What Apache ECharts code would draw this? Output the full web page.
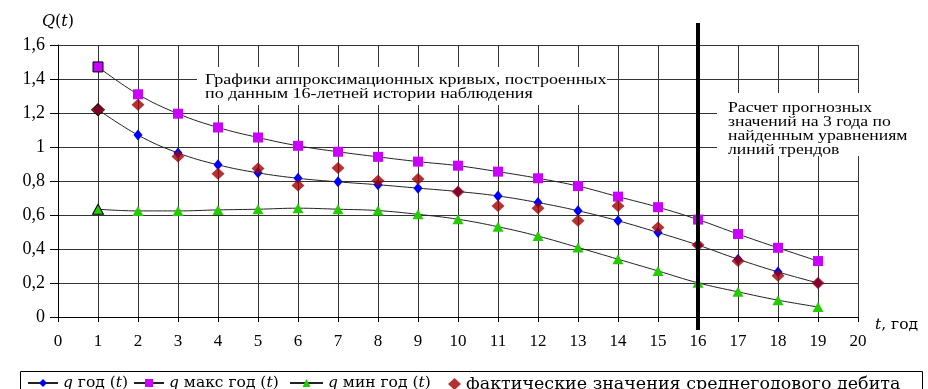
<!DOCTYPE html>
<html><head><meta charset="utf-8">
<script src="https://cdn.jsdelivr.net/npm/echarts@6/dist/echarts.min.js"></script>
<style>html,body{margin:0;padding:0;background:#fff}#c{width:928px;height:389px}</style>
</head><body><div id="c"></div>
<script>
const years = [1,2,3,4,5,6,7,8,9,10,11,12,13,14,15,16,17,18,19];
const qYear = [1.22,1.07,0.965,0.895,0.848,0.816,0.795,0.778,0.758,0.738,0.712,0.673,0.625,0.566,0.497,0.423,0.34,0.265,0.2];
const qMax  = [1.471,1.31,1.196,1.115,1.056,1.007,0.972,0.942,0.914,0.89,0.855,0.816,0.77,0.708,0.646,0.573,0.488,0.407,0.329];
const qMin  = [0.634,0.624,0.624,0.63,0.634,0.64,0.634,0.626,0.604,0.575,0.531,0.476,0.409,0.34,0.271,0.201,0.148,0.099,0.059];
const actual = [1.219,1.249,0.944,0.842,0.873,0.773,0.877,0.802,0.812,0.737,0.653,0.64,0.566,0.653,0.527,0.423,0.329,0.242,0.2];
const seriesNames = ['q год (t)','q макс год (t)','q мин год (t)','фактические значения среднегодового дебита'];
const forecastStart = 16;
const note1 = 'Графики аппроксимационных кривых, построенных\nпо данным 16-летней истории наблюдения';
const note2 = 'Расчет прогнозных\nзначений на 3 года по\nнайденным уравнениям\nлиний трендов';

const FONT = 'Liberation Serif, Times New Roman, serif';
const LFONT = 'DejaVu Serif, serif';
function pts(arr){
  return arr.map((v,i)=> i===0 ? {value:[years[i],v], itemStyle:{borderColor:'#000',borderWidth:1}} : [years[i],v]);
}
const chart = echarts.init(document.getElementById('c'), null, {renderer:'canvas'});
const gridColor = '#333';
function legendText(fs){
  return {fontFamily:LFONT,fontSize:fs,color:'#000',
    rich:{i:{fontFamily:LFONT,fontStyle:'italic',fontSize:fs,color:'#000'}}};
}
function legendFmt(n){
  if(n.indexOf('q ')===0){return '{i|q} '+n.slice(2).replace('(t)','({i|t})');}
  return n;
}
function mkLegend(idx,left,w,h,fs){
  return {top:375,left:left,data:[seriesNames[idx]],itemWidth:w,itemHeight:h,padding:0,
    textStyle:legendText(fs),formatter:legendFmt,selectedMode:false};
}
chart.setOption({
  animation:false,
  backgroundColor:'#fff',
  grid:{left:58,right:70,top:45,bottom:72},
  xAxis:{type:'value',min:0,max:20,interval:1,
    name:'{i|t}, год',nameLocation:'end',nameGap:17,
    nameTextStyle:{fontFamily:LFONT,fontSize:15.5,color:'#000',verticalAlign:'top',padding:[0,0,0,0],
      rich:{i:{fontFamily:LFONT,fontStyle:'italic',fontSize:15.5,color:'#000'}}},
    axisLine:{lineStyle:{color:'#000',width:1}},
    axisTick:{show:true,length:5,lineStyle:{color:'#000'}},
    axisLabel:{fontFamily:FONT,fontSize:17,color:'#000',margin:16},
    splitLine:{show:true,lineStyle:{color:gridColor,width:1}}},
  yAxis:{type:'value',min:0,max:1.6,interval:0.2,
    name:'{i|Q}({i|t})',nameLocation:'end',nameGap:15,
    nameTextStyle:{fontFamily:LFONT,fontSize:16,color:'#000',align:'center',padding:[0,0,0,0],
      rich:{i:{fontFamily:LFONT,fontStyle:'italic',fontSize:16,color:'#000'}}},
    axisLine:{show:true,lineStyle:{color:'#000',width:1}},
    axisTick:{show:true,length:8,lineStyle:{color:'#000'}},
    axisLabel:{fontFamily:FONT,fontSize:18,color:'#000',margin:13,
      formatter:v=>String(+v.toFixed(1)).replace('.',',')},
    splitLine:{show:true,lineStyle:{color:gridColor,width:1}}},
  legend:[mkLegend(0,27,30,10,15.5),mkLegend(1,133,30,10,15.5),mkLegend(2,289,33,10,15.5),mkLegend(3,448,13,12,17.5)],
  series:[
    {name:seriesNames[0],type:'line',smooth:0.4,data:pts(qYear),symbol:'diamond',symbolSize:[9,11],
      lineStyle:{color:'#222',width:1},itemStyle:{color:'#0000ff'},z:3},
    {name:seriesNames[1],type:'line',smooth:0.4,data:pts(qMax),symbol:'rect',symbolSize:10,
      lineStyle:{color:'#222',width:1},itemStyle:{color:'#cc00ff'},z:3},
    {name:seriesNames[2],type:'line',smooth:0.4,data:pts(qMin),symbol:'triangle',symbolSize:[11,10],
      lineStyle:{color:'#222',width:1},itemStyle:{color:'#22cc00'},z:3},
    {name:seriesNames[3],type:'scatter',data:pts(actual),symbol:'diamond',symbolSize:[13,12],
      itemStyle:{color:'#a00000'},z:4}
  ]
});
const px16 = chart.convertToPixel({gridIndex:0},[forecastStart,0]);
chart.setOption({graphic:[
  {type:'rect',shape:{x:197,y:67,width:410,height:38},style:{fill:'#fff'},z:10},
  {type:'text',x:205,y:73,scaleX:1.2,style:{text:note1,font:'15px '+FONT,fill:'#000',lineHeight:14},z:11},
  {type:'rect',shape:{x:717,y:93,width:200,height:63},style:{fill:'#fff'},z:10},
  {type:'text',x:728,y:101,scaleX:1.22,style:{text:note2,font:'14.5px '+FONT,fill:'#000',lineHeight:14},z:11},
  {type:'line',shape:{x1:px16[0],y1:23,x2:px16[0],y2:330},style:{stroke:'#000',lineWidth:4},z:12},
  {type:'rect',shape:{x:20.5,y:371.5,width:902,height:30},style:{fill:'none',stroke:'#000',lineWidth:1},z:1}
]});
</script></body></html>
